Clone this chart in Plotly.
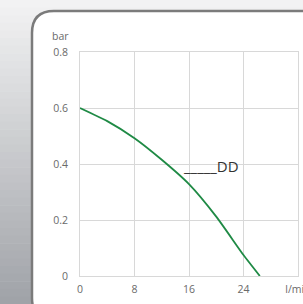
import plotly.graph_objects as go

flow = [0, 4, 8, 12, 16, 20, 24, 26.4]
pressure = [0.6, 0.553, 0.492, 0.415, 0.328, 0.212, 0.075, 0.0]
x_ticks = [0, 8, 16, 24, 32]
x_ticktext = ["0", "8", "16", "24", "l/min"]
y_ticks = [0, 0.2, 0.4, 0.6, 0.8]
y_ticktext = ["0", "0.2", "0.4", "0.6", "0.8"]
series_name = "DD"

W, H = 303, 304
L, R, T, B = 80, 5, 52, 28
pw, ph = W - L - R, H - T - B

def px(x):
    return (x - L) / pw

def py(y):
    return (H - B - y) / ph

shapes = []
# gradient background stripes
n = 40
top_c = (242, 242, 243)
bot_c = (160, 163, 168)
for i in range(n):
    t = i / (n - 1)
    c = tuple(int(round(top_c[k] + (bot_c[k] - top_c[k]) * t)) for k in range(3))
    y0 = i * H / n
    y1 = (i + 1) * H / n + 0.5
    shapes.append(dict(type="rect", xref="paper", yref="paper", layer="below",
                       x0=px(0), x1=px(W), y0=py(y1), y1=py(y0),
                       fillcolor="rgb(%d,%d,%d)" % c, line=dict(width=0)))

# rounded card
cx0, cy0, cx1, cy1, r = 32, 11, 330, 320, 22
pts = [
    f"M {px(cx0)},{py(cy0 + r)}",
    f"Q {px(cx0)},{py(cy0)} {px(cx0 + r)},{py(cy0)}",
    f"L {px(cx1 - r)},{py(cy0)}",
    f"Q {px(cx1)},{py(cy0)} {px(cx1)},{py(cy0 + r)}",
    f"L {px(cx1)},{py(cy1 - r)}",
    f"Q {px(cx1)},{py(cy1)} {px(cx1 - r)},{py(cy1)}",
    f"L {px(cx0 + r)},{py(cy1)}",
    f"Q {px(cx0)},{py(cy1)} {px(cx0)},{py(cy1 - r)}",
    "Z",
]
shapes.append(dict(type="path", xref="paper", yref="paper", layer="below",
                   path=" ".join(pts), fillcolor="white",
                   line=dict(color="#7b7b7b", width=2.5)))

fig = go.Figure()
fig.add_trace(go.Scatter(x=flow, y=pressure, mode="lines",
                         line=dict(color="#1f8a45", width=1.8, shape="spline", smoothing=0.6),
                         name=series_name, hoverinfo="skip"))

axis_font = dict(family="Open Sans, Lato, sans-serif", size=10.5, color="#6a6a6a")
fig.update_layout(
    width=W, height=H,
    margin=dict(l=L, r=R, t=T, b=B, pad=0, autoexpand=False),
    paper_bgcolor="rgba(0,0,0,0)",
    plot_bgcolor="rgba(0,0,0,0)",
    showlegend=False,
    hovermode=False,
    shapes=shapes,
    xaxis=dict(range=[0, 32], tickvals=x_ticks, ticktext=x_ticktext,
               showgrid=True, gridcolor="#d8d8d8", gridwidth=1,
               showline=True, mirror=True, linecolor="#d8d8d8", linewidth=1,
               zeroline=False, ticks="outside", ticklen=3, automargin=False,
               ticklabeloverflow="allow",
               tickcolor="rgba(0,0,0,0)", tickfont=axis_font, fixedrange=True),
    yaxis=dict(range=[0, 0.8], tickvals=y_ticks, ticktext=y_ticktext,
               showgrid=True, gridcolor="#d8d8d8", gridwidth=1,
               showline=True, mirror=True, linecolor="#d8d8d8", linewidth=1,
               zeroline=False, ticks="outside", ticklen=9, automargin=False,
               tickcolor="rgba(0,0,0,0)", tickfont=axis_font, fixedrange=True),
    annotations=[
        dict(text="bar", xref="paper", yref="paper", x=px(71), y=py(36),
             xanchor="right", yanchor="middle", showarrow=False, font=axis_font),
        dict(text="_____" + series_name, xref="paper", yref="paper",
             x=px(181), y=py(166), xanchor="left", yanchor="middle",
             showarrow=False,
             font=dict(family="Open Sans, Lato, sans-serif", size=15, color="#333333")),
    ],
)
fig.write_html("out.html", config={"displayModeBar": False, "staticPlot": True},
               post_script="document.body.style.margin='0';document.body.style.overflow='hidden';")
